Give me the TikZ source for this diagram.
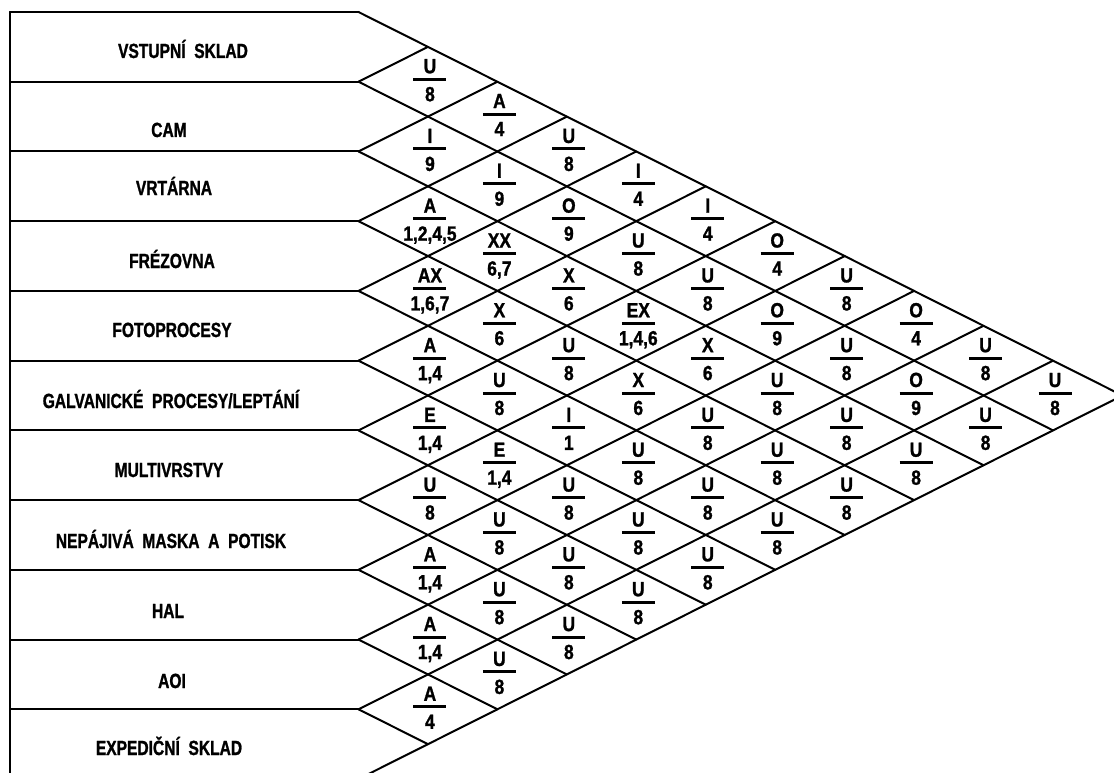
\documentclass[tikz,border=0pt]{standalone}
\usepackage{fontspec}
\newfontfamily\labfont[FakeStretch=0.76,WordSpace=2,FakeBold=1.2]{Liberation Sans}
\newfontfamily\cellfont[FakeStretch=0.85,FakeBold=1.2]{Liberation Sans}
\begin{document}
\begin{tikzpicture}[x=1pt,y=-1pt,
  grid/.style={line width=2pt,line cap=round,line join=round},
  bar/.style={line width=3pt},
  lab/.style={font=\labfont\bfseries\fontsize{20.5}{21}\selectfont,anchor=base,inner sep=0pt},
  cell/.style={font=\cellfont\bfseries\fontsize{20.5}{21}\selectfont,anchor=base,inner sep=0pt}]
\useasboundingbox (0,0) rectangle (1114,773);
\def\xo{358.5}
\def\colw{69.45}
\def\halfh{34.865}
\def\rowh{69.73}
\begin{scope}
\clip (0,0) rectangle (1114,773);
\draw[grid] (10,12) -- (10,785);
\foreach \i in {0,...,11}{
  \pgfmathsetmacro\yy{12+\rowh*\i}
  \draw[grid] (10,\yy) -- (\xo,\yy);
  \draw[grid] (\xo,\yy) -- ++({(11-\i)*\colw},{(11-\i)*\halfh});
  \draw[grid] (\xo,\yy) -- ++({\i*\colw},{-\i*\halfh});
}
\end{scope}
% row labels
\node[lab] (r1) at (183,58) {VSTUPNÍ SKLAD};
\node[lab] (r2) at (169,137) {CAM};
\node[lab] (r3) at (174,195) {VRTÁRNA};
\node[lab] (r4) at (172,268) {FRÉZOVNA};
\node[lab] (r5) at (172,337) {FOTOPROCESY};
\node[lab] (r6) at (171,408) {GALVANICKÉ PROCESY/LEPTÁNÍ};
\node[lab] (r7) at (169,477) {MULTIVRSTVY};
\node[lab] (r8) at (171,548) {NEPÁJIVÁ MASKA A POTISK};
\node[lab] (r9) at (168,618) {HAL};
\node[lab] (r10) at (172,688) {AOI};
\node[lab] (r11) at (169,755) {EXPEDIČNÍ SKLAD};
% relationship cells
\foreach \a/\d/\L/\N in {
  1/1/U/8, 2/1/I/9, 3/1/A/{1,2,4,5}, 4/1/AX/{1,6,7}, 5/1/A/{1,4}, 6/1/E/{1,4}, 7/1/U/8, 8/1/A/{1,4}, 9/1/A/{1,4}, 10/1/A/4,
  1/2/A/4, 2/2/I/9, 3/2/XX/{6,7}, 4/2/X/6, 5/2/U/8, 6/2/E/{1,4}, 7/2/U/8, 8/2/U/8, 9/2/U/8,
  1/3/U/8, 2/3/O/9, 3/3/X/6, 4/3/U/8, 5/3/I/1, 6/3/U/8, 7/3/U/8, 8/3/U/8,
  1/4/I/4, 2/4/U/8, 3/4/EX/{1,4,6}, 4/4/X/6, 5/4/U/8, 6/4/U/8, 7/4/U/8,
  1/5/I/4, 2/5/U/8, 3/5/X/6, 4/5/U/8, 5/5/U/8, 6/5/U/8,
  1/6/O/4, 2/6/O/9, 3/6/U/8, 4/6/U/8, 5/6/U/8,
  1/7/U/8, 2/7/U/8, 3/7/U/8, 4/7/U/8,
  1/8/O/4, 2/8/O/9, 3/8/U/8,
  1/9/U/8, 2/9/U/8,
  1/10/U/8}{
  \pgfmathsetmacro\cx{\xo+\d*\colw+2}
  \pgfmathsetmacro\cy{12+(2*\a-1+\d)*\halfh}
  \draw[bar] (\cx-16.5,\cy-2.5) -- (\cx+16.5,\cy-2.5);
  \node[cell] (l\a-\d) at (\cx,\cy-8.5) {\L};
  \node[cell] (n\a-\d) at (\cx,\cy+19.5) {\N};
}
\end{tikzpicture}
\end{document}
